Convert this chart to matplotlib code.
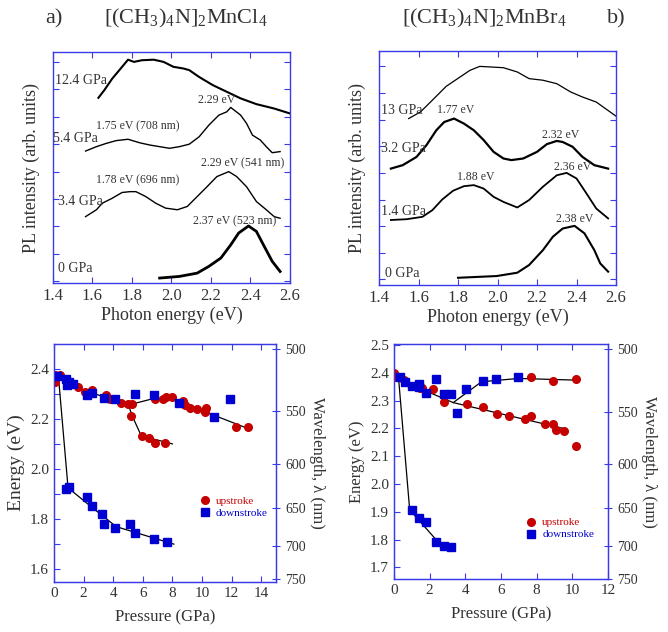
import numpy as np
import matplotlib
matplotlib.use('Agg')
import matplotlib.pyplot as plt

plt.rcParams['font.family'] = ['Liberation Serif', 'DejaVu Serif']
plt.rcParams['mathtext.fontset'] = 'custom'
plt.rcParams['mathtext.rm'] = 'Liberation Serif'
plt.rcParams['mathtext.it'] = 'Liberation Serif:italic'

# ---- top left: [(CH3)4N]2MnCl4 spectra ----
cl_0_x = [1.94, 2.04, 2.13, 2.19, 2.25, 2.30, 2.34, 2.39, 2.43, 2.47, 2.51, 2.55]
cl_0_y = [0.12, 0.18, 0.30, 0.55, 0.85, 1.33, 1.76, 2.02, 1.82, 1.27, 0.73, 0.36]
cl_34_x = [1.565, 1.62, 1.65, 1.70, 1.75, 1.79, 1.82, 1.87, 1.92, 1.97, 2.03, 2.08,
           2.13, 2.18, 2.23, 2.29, 2.33, 2.38, 2.43, 2.48, 2.52, 2.55]
cl_34_y = [2.36, 2.61, 2.85, 3.03, 3.24, 3.27, 3.27, 3.09, 2.85, 2.67, 2.61, 2.73,
           3.09, 3.45, 3.82, 4.00, 3.82, 3.45, 2.91, 2.61, 2.36, 2.30]
cl_54_x = [1.565, 1.62, 1.67, 1.72, 1.78, 1.84, 1.89, 1.94, 1.99, 2.04, 2.09, 2.14,
           2.19, 2.24, 2.28, 2.30, 2.35, 2.38, 2.41, 2.45, 2.48, 2.51, 2.55]
cl_54_y = [4.75, 4.91, 5.03, 5.13, 5.18, 5.05, 4.97, 4.91, 4.85, 4.91, 5.00, 5.27,
           5.70, 6.06, 6.18, 6.34, 6.06, 5.76, 5.33, 5.15, 4.91, 4.69, 4.73]
cl_124_x = [1.63, 1.66, 1.70, 1.75, 1.78, 1.81, 1.85, 1.91, 1.96, 2.01, 2.06, 2.09,
            2.14, 2.21, 2.28, 2.35, 2.43, 2.52, 2.60]
cl_124_y = [6.69, 6.97, 7.39, 7.82, 8.08, 8.00, 8.06, 8.08, 8.00, 7.82, 7.76, 7.70,
            7.45, 7.15, 6.91, 6.67, 6.46, 6.30, 6.12]

# ---- top right: [(CH3)4N]2MnBr4 spectra ----
br_0_x = [1.80, 1.995, 2.10, 2.16, 2.23, 2.28, 2.33, 2.39, 2.44, 2.49, 2.52, 2.56]
br_0_y = [0.06, 0.125, 0.25, 0.54, 1.10, 1.60, 1.91, 2.01, 1.73, 1.10, 0.60, 0.29]
br_14_x = [1.46, 1.54, 1.62, 1.67, 1.72, 1.775, 1.83, 1.88, 1.93, 1.98, 2.03, 2.10,
           2.16, 2.23, 2.30, 2.35, 2.40, 2.45, 2.50, 2.56]
br_14_y = [2.23, 2.26, 2.35, 2.60, 3.00, 3.33, 3.50, 3.54, 3.41, 3.10, 2.91, 2.70,
           2.98, 3.48, 3.91, 4.00, 3.79, 3.23, 2.66, 2.29]
br_32_x = [1.46, 1.52, 1.59, 1.64, 1.69, 1.73, 1.78, 1.83, 1.88, 1.93, 1.98, 2.03,
           2.07, 2.13, 2.20, 2.25, 2.30, 2.33, 2.38, 2.43, 2.49, 2.56]
br_32_y = [4.16, 4.29, 4.60, 5.04, 5.60, 5.91, 6.04, 5.85, 5.60, 5.23, 4.79, 4.54,
           4.48, 4.54, 4.79, 5.08, 5.20, 5.16, 4.98, 4.60, 4.29, 4.16]
br_13_x = [1.55, 1.61, 1.67, 1.74, 1.81, 1.86, 1.91, 1.96, 2.03, 2.10, 2.16, 2.23,
           2.30, 2.37, 2.43, 2.50, 2.60]
br_13_y = [6.04, 6.29, 6.73, 7.25, 7.60, 7.85, 8.00, 7.98, 7.95, 7.79, 7.54, 7.48,
           7.35, 7.04, 6.85, 6.66, 6.13]

# ---- bottom left: MnCl4 peak energy vs pressure ----
cl_up_p = [0.07, 0.07, 0.4, 0.97, 1.65, 2.1, 2.55, 3.52, 3.8, 4.5, 5.03, 5.26, 5.2,
           5.94, 6.43, 6.8, 7.52, 6.8, 7.34, 7.56, 8.0, 8.7, 8.87, 9.2, 9.66, 10.2,
           10.3, 12.3, 13.1]
cl_up_e = [2.348, 2.375, 2.375, 2.335, 2.325, 2.308, 2.315, 2.295, 2.28, 2.262, 2.259,
           2.259, 2.212, 2.132, 2.122, 2.102, 2.102, 2.28, 2.28, 2.288, 2.288, 2.272,
           2.255, 2.242, 2.238, 2.228, 2.242, 2.168, 2.168]
cl_dn_p = [0.23, 0.79, 0.86, 1.04, 1.26, 2.26, 2.55, 3.41, 4.13, 5.46, 6.73, 8.42,
           10.84, 11.92, 0.81, 1.04, 2.26, 2.55, 3.27, 3.41, 4.13, 5.15, 5.46, 6.73, 7.63]
cl_dn_e = [2.371, 2.357, 2.335, 2.345, 2.339, 2.295, 2.305, 2.285, 2.279, 2.301, 2.295,
           2.264, 2.206, 2.279, 1.922, 1.929, 1.889, 1.851, 1.822, 1.782, 1.766, 1.782,
           1.746, 1.722, 1.709]
cl_fit1_p = [0.23, 1.99, 5.03, 6.73, 8.08, 12.82]
cl_fit1_e = [2.371, 2.315, 2.255, 2.281, 2.277, 2.168]
cl_fit2_p = [5.03, 5.3, 5.9, 8.0]
cl_fit2_e = [2.255, 2.21, 2.132, 2.100]
cl_fit3_p = [0.3, 0.95, 2.5, 4.2, 8.1]
cl_fit3_e = [2.37, 1.925, 1.85, 1.77, 1.70]

# ---- bottom right: MnBr4 peak energy vs pressure ----
br_up_p = [0.0, 0.04, 0.54, 1.35, 1.44, 1.59, 2.19, 2.79, 4.07, 4.97, 5.79, 6.47,
           7.35, 7.67, 7.67, 8.48, 8.94, 8.94, 9.06, 9.56, 10.18, 10.18]
br_up_e = [2.398, 2.386, 2.374, 2.35, 2.344, 2.344, 2.341, 2.296, 2.288, 2.278, 2.251,
           2.246, 2.234, 2.243, 2.386, 2.215, 2.215, 2.372, 2.195, 2.191, 2.377, 2.138]
br_dn_p = [0.32, 0.62, 1.01, 1.41, 1.41, 1.82, 2.38, 2.79, 3.19, 3.51, 4.03, 4.97,
           5.72, 6.98, 1.01, 1.41, 1.82, 2.38, 2.79, 3.19]
br_dn_e = [2.384, 2.366, 2.353, 2.359, 2.35, 2.328, 2.377, 2.323, 2.323, 2.254, 2.341,
           2.372, 2.379, 2.384, 1.905, 1.877, 1.863, 1.79, 1.778, 1.772]
br_fit1_p = [0.13, 3.32, 9.5]
br_fit1_e = [2.38, 2.293, 2.20]
br_fit2_p = [3.32, 4.91, 6.98, 10.16]
br_fit2_e = [2.293, 2.368, 2.38, 2.374]
br_fit3_p = [0.25, 0.88, 2.45]
br_fit3_e = [2.386, 1.907, 1.793]

wavelengths = [500, 550, 600, 650, 700, 750]

spine_blue = '#3a3ae8'
txt = '#333333'
red = '#c40000'
blue = '#0000d0'

fig = plt.figure(figsize=(6.68, 6.32), dpi=100)


def style_axes(ax, right=True):
    for s in ax.spines.values():
        s.set_color(spine_blue)
        s.set_linewidth(1.0)
    ax.tick_params(which='both', direction='in', color=spine_blue, labelcolor=txt,
                   top=True, right=right)


def spectra_panel(rect, curves, labels, notes, ylim):
    ax = fig.add_axes(rect)
    for cx, cy, lw in curves:
        ax.plot(cx, cy, color='black', lw=lw)
    for x, y, s in labels:
        ax.text(x, y, s, fontsize=10, color=txt, ha='left', va='center')
    for x, y, s in notes:
        ax.text(x, y, s, fontsize=8.5, color=txt, ha='center', va='center')
    ax.set_xlim(1.4, 2.6)
    ax.set_ylim(*ylim)
    ax.set_xticks(np.arange(1.4, 2.61, 0.2))
    ax.set_xticklabels(['1.4', '1.6', '1.8', '2.0', '2.2', '2.4', '2.6'])
    ax.set_yticks(range(9))
    ax.set_yticklabels([])
    style_axes(ax)
    ax.tick_params(labelsize=12, length=4)
    ax.set_xlabel('Photon energy (eV)', fontsize=13, color=txt, labelpad=2)
    ax.set_ylabel('PL intensity (arb. units)', fontsize=13, color=txt, labelpad=6)
    return ax


spectra_panel([0.0793, 0.5522, 0.3548, 0.3655],
              [(cl_0_x, cl_0_y, 2.0), (cl_34_x, cl_34_y, 1.0),
               (cl_54_x, cl_54_y, 1.0), (cl_124_x, cl_124_y, 1.5)],
              [(1.425, 0.48, '0 GPa'), (1.425, 2.90, '3.4 GPa'),
               (1.40, 5.20, '5.4 GPa'), (1.41, 7.33, '12.4 GPa')],
              [(2.32, 2.18, '2.37 eV (523 nm)'), (1.83, 3.70, '1.78 eV (696 nm)'),
               (2.36, 4.30, '2.29 eV (541 nm)'), (1.83, 5.64, '1.75 eV (708 nm)'),
               (2.23, 6.60, '2.29 eV')],
              (-0.06, 8.36))

spectra_panel([0.5674, 0.5491, 0.3548, 0.3703],
              [(br_0_x, br_0_y, 1.5), (br_14_x, br_14_y, 1.3),
               (br_32_x, br_32_y, 1.6), (br_13_x, br_13_y, 0.9)],
              [(1.43, 0.22, '0 GPa'), (1.41, 2.56, '1.4 GPa'),
               (1.41, 4.91, '3.2 GPa'), (1.41, 6.35, '13 GPa')],
              [(2.39, 2.26, '2.38 eV'), (1.89, 3.83, '1.88 eV'),
               (2.38, 4.23, '2.36 eV'), (1.79, 6.35, '1.77 eV'),
               (2.32, 5.41, '2.32 eV')],
              (-0.21, 8.58))


def pressure_panel(rect, up, dn, fits, xlim, xticks, ylim, yticks, ylabels,
                   ylim2, efs, leg_anchor):
    ax = fig.add_axes(rect)
    for fp, fe in fits:
        ax.plot(fp, fe, color='black', lw=0.9, zorder=2)
    l1, = ax.plot(up[0], up[1], 'o', color=red, ms=5.5, ls='none', zorder=3,
                  label='upstroke')
    l2, = ax.plot(dn[0], dn[1], 's', color=blue, ms=6, ls='none', zorder=4,
                  label='downstroke')
    ax.set_xlim(*xlim)
    ax.set_xticks(xticks)
    ax.set_ylim(*ylim)
    ax.set_yticks(yticks)
    ax.set_yticklabels(ylabels)
    style_axes(ax, right=False)
    ax.tick_params(labelsize=11, length=4)
    ax.set_xlabel('Pressure (GPa)', fontsize=12, color=txt, labelpad=7)
    ax.set_ylabel('Energy (eV)', fontsize=efs, color=txt, labelpad=4)
    ax.legend(handles=[l1, l2], loc='upper left', bbox_to_anchor=leg_anchor,
              frameon=False, fontsize=8, handlelength=0.8, handletextpad=0.6,
              labelspacing=0.2, labelcolor='linecolor', borderaxespad=0)

    ax2 = ax.twinx()
    ax2.set_ylim(*ylim2)
    ax2.set_yticks([1239.84 / w for w in wavelengths])
    ax2.set_yticklabels([str(w) for w in wavelengths])
    for s in ax2.spines.values():
        s.set_color(spine_blue)
    ax2.tick_params(direction='inout', color=spine_blue, labelcolor=txt,
                    labelsize=10, length=6)
    ax2.set_ylabel('Wavelength, λ (nm)', fontsize=12, color=txt, rotation=270,
                   labelpad=14)
    return ax


pressure_panel([0.0808, 0.0791, 0.3323, 0.3766],
               (cl_up_p, cl_up_e), (cl_dn_p, cl_dn_e),
               [(cl_fit1_p, cl_fit1_e), (cl_fit2_p, cl_fit2_e), (cl_fit3_p, cl_fit3_e)],
               (0, 15), range(0, 15, 2), (1.549, 2.4985),
               np.arange(1.6, 2.41, 0.1),
               ['1.6', '', '1.8', '', '2.0', '', '2.2', '', '2.4'],
               (1.641, 2.496), 14, (0.64, 0.38))

pressure_panel([0.5898, 0.0839, 0.3204, 0.3718],
               (br_up_p, br_up_e), (br_dn_p, br_dn_e),
               [(br_fit1_p, br_fit1_e), (br_fit2_p, br_fit2_e), (br_fit3_p, br_fit3_e)],
               (0, 12), range(0, 13, 2), (1.658, 2.504),
               np.arange(1.7, 2.51, 0.1),
               ['1.7', '1.8', '1.9', '2.0', '2.1', '2.2', '2.3', '2.4', '2.5'],
               (1.653, 2.498), 12, (0.6, 0.28))

title = dict(fontsize=16, color=txt, va='center')
fig.text(0.067, 0.970, 'a)', ha='left', **title)
fig.text(0.278, 0.970, r'[(CH$_3$)$_4$N]$_2$MnCl$_4$', ha='center', **title)
fig.text(0.725, 0.970, r'[(CH$_3$)$_4$N]$_2$MnBr$_4$', ha='center', **title)
fig.text(0.908, 0.970, 'b)', ha='left', **title)

fig.savefig('out.png', dpi=100)
